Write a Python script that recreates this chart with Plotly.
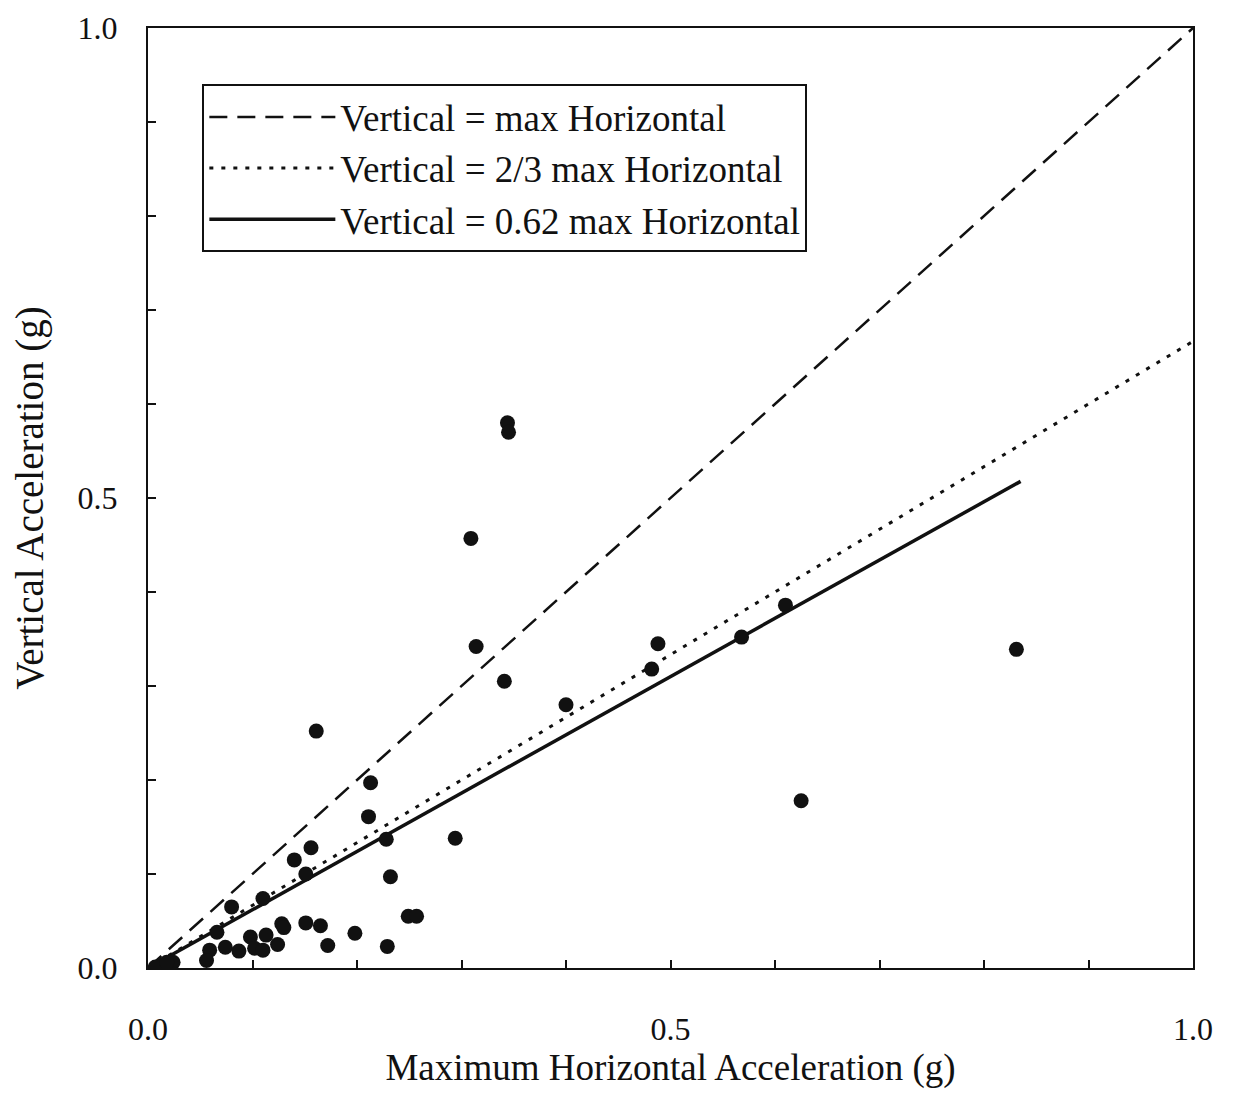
import plotly.graph_objects as go

max_horizontal = [0.344, 0.345, 0.309, 0.314, 0.341, 0.400, 0.488, 0.482, 0.568, 0.610,
                  0.831, 0.625, 0.161, 0.213, 0.211, 0.228, 0.294, 0.156, 0.140, 0.151,
                  0.232, 0.110, 0.080, 0.066, 0.249, 0.257, 0.151, 0.165, 0.128, 0.130,
                  0.198, 0.098, 0.113, 0.074, 0.087, 0.102, 0.110, 0.124, 0.059, 0.056,
                  0.172, 0.229, 0.024, 0.013, 0.007, 0.018]
vertical = [0.580, 0.570, 0.457, 0.342, 0.305, 0.280, 0.345, 0.318, 0.352, 0.386,
            0.339, 0.178, 0.252, 0.197, 0.161, 0.137, 0.138, 0.128, 0.115, 0.100,
            0.097, 0.074, 0.065, 0.038, 0.055, 0.055, 0.048, 0.045, 0.047, 0.043,
            0.037, 0.033, 0.035, 0.022, 0.018, 0.021, 0.019, 0.025, 0.019, 0.008,
            0.024, 0.023, 0.006, 0.003, 0.001, 0.006]

# Reference lines
line_names = ["Vertical = max Horizontal", "Vertical = 2/3 max Horizontal",
              "Vertical = 0.62 max Horizontal"]
line_slopes = [1.0, 2.0 / 3.0, 0.62]
line_xmax = [1.0, 1.0, 0.835]

tick_values = [0.0, 0.1, 0.2, 0.3, 0.4, 0.5, 0.6, 0.7, 0.8, 0.9, 1.0]
tick_labels = ["0.0", "", "", "", "", "0.5", "", "", "", "", "1.0"]

FONT = "Liberation Serif, Times New Roman, serif"
INK = "#111111"

line_styles = [
    dict(color=INK, width=2.5, dash="18px,10px"),
    dict(color=INK, width=3, dash="4px,8px"),
    dict(color=INK, width=3.5, dash="solid"),
]

fig = go.Figure()
for i, (name, slope, xmax) in enumerate(zip(line_names, line_slopes, line_xmax)):
    fig.add_trace(go.Scatter(
        x=[0.0, xmax], y=[0.0, slope * xmax], mode="lines", name=name,
        line=line_styles[i], legendgroup=f"g{i}", hoverinfo="skip"))

fig.add_trace(go.Scatter(
    x=max_horizontal, y=vertical, mode="markers", showlegend=False,
    marker=dict(size=15, color=INK, line=dict(width=0))))

axis_common = dict(
    range=[0, 1], tickvals=tick_values, ticktext=tick_labels,
    ticks="inside", ticklen=8, tickwidth=2, tickcolor=INK,
    showline=True, linecolor=INK, linewidth=2, mirror=True,
    showgrid=False, zeroline=False, ticklabeloverflow="allow",
    automargin=False,
    tickfont=dict(family=FONT, size=32, color=INK),
)

fig.update_layout(
    width=1233, height=1094,
    margin=dict(l=140, r=48, t=20, b=134),
    paper_bgcolor="white", plot_bgcolor="white",
    font=dict(family=FONT, color=INK),
    xaxis=dict(**axis_common, ticklabelstandoff=32,
               title=dict(text="Maximum Horizontal Acceleration (g)",
                          font=dict(family=FONT, size=37, color=INK), standoff=6)),
    yaxis=dict(**axis_common, ticklabelstandoff=22,
               title=dict(text="Vertical Acceleration (g)",
                          font=dict(family=FONT, size=39, color=INK), standoff=28)),
    legend=dict(x=0.052, y=0.94, xanchor="left", yanchor="top",
                bordercolor=INK, borderwidth=2, bgcolor="white",
                font=dict(family=FONT, size=37, color=INK),
                traceorder="grouped", tracegroupgap=0, itemwidth=126),
    showlegend=True,
)

fig.write_html("out.html")
